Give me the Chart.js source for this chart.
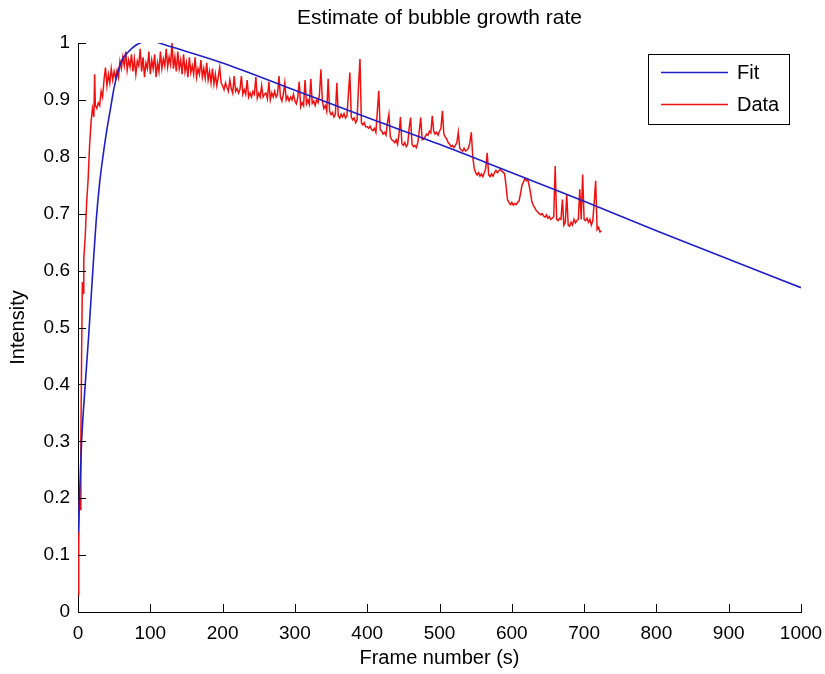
<!DOCTYPE html>
<html>
<head>
<meta charset="utf-8">
<script src="https://cdn.jsdelivr.net/npm/chart.js@4.4.0/dist/chart.umd.min.js"></script>
<style>
  html, body { margin: 0; padding: 0; background: #fff; }
  canvas { display: block; }
</style>
</head>
<body>
<canvas id="chart" width="825" height="674"></canvas>
<script>
// Measured intensity, rising phase (irregular frames)
const riseFrames = [0, 1, 2, 3, 4, 5, 6, 7, 8, 10, 12, 14, 16, 18, 20, 22, 23, 24, 26, 28, 30];
const riseIntensity = [0.03, 0.12, 0.2, 0.18, 0.3, 0.45, 0.58, 0.56, 0.62, 0.66, 0.72, 0.76, 0.82, 0.86, 0.885, 0.87, 0.945, 0.89, 0.885, 0.895, 0.89];

// Measured intensity sampled every 2 frames, by segment start frame
const sampleStep = 2;
const plateauStart = 32;
const plateauIntensity = [
  0.915, 0.905, 0.935, 0.957, 0.925, 0.945, 0.93, 0.955, 0.935, 0.95, 0.938, 0.952, 0.94, 0.968,
  0.955, 0.975, 0.96, 0.985, 0.952, 0.97, 0.958, 0.98, 0.95, 0.972,
  0.945, 0.968, 0.96, 0.99, 0.95, 0.975, 0.94, 0.965, 0.955, 0.985,
  0.945, 0.97, 0.955, 0.98, 0.94, 0.965, 0.95, 0.985, 0.955, 0.972,
  0.96, 0.99, 0.958, 0.975, 0.962, 1.0, 0.955, 0.975, 0.95, 0.985,
  0.955, 0.97, 0.945, 0.98, 0.95, 0.965, 0.94, 0.975, 0.948, 0.96,
  0.945, 0.975, 0.94, 0.955, 0.945, 0.97, 0.94, 0.955, 0.938, 0.965,
  0.935, 0.95, 0.93, 0.955, 0.928, 0.945, 0.925, 0.94, 0.957, 0.93
];
const declineStart = 200;
const declineIntensity = [
  0.925, 0.918, 0.93, 0.922, 0.915, 0.935, 0.92, 0.912, 0.942, 0.915,
  0.92, 0.912, 0.918, 0.942, 0.91, 0.918, 0.91, 0.935, 0.905, 0.912,
  0.905, 0.915, 0.91, 0.94, 0.903, 0.912, 0.905, 0.925, 0.905, 0.91,
  0.912, 0.902, 0.932, 0.9, 0.912, 0.905, 0.915, 0.905, 0.91, 0.942,
  0.905, 0.898, 0.91, 0.93, 0.9, 0.906, 0.898, 0.905, 0.9, 0.91,
  0.898, 0.893, 0.905, 0.932, 0.888, 0.895, 0.89, 0.935, 0.893, 0.9,
  0.892, 0.937, 0.894, 0.898, 0.89, 0.9, 0.895, 0.91, 0.954, 0.898,
  0.885, 0.89, 0.88, 0.937, 0.88, 0.874, 0.878, 0.87, 0.875, 0.93,
  0.872, 0.868, 0.875, 0.87, 0.876, 0.868, 0.872, 0.91, 0.948, 0.87,
  0.865, 0.868, 0.86, 0.865, 0.925, 0.972, 0.86, 0.856, 0.86, 0.853
];
const tailStart = 400;
const tailIntensity = [
  0.853, 0.85, 0.854, 0.848, 0.846, 0.85, 0.843, 0.88, 0.916, 0.848,
  0.845, 0.84, 0.843, 0.838, 0.86, 0.875, 0.835, 0.83, 0.828, 0.825,
  0.83, 0.822, 0.84, 0.87, 0.823, 0.82, 0.825, 0.818, 0.822, 0.85,
  0.869, 0.822, 0.818, 0.82, 0.816, 0.825, 0.845, 0.869, 0.83, 0.831,
  0.835, 0.84, 0.838, 0.845, 0.842, 0.872, 0.845, 0.84, 0.843, 0.838,
  0.845, 0.85, 0.881, 0.84, 0.835, 0.831, 0.825, 0.822, 0.818, 0.82,
  0.816, 0.82, 0.825, 0.843, 0.815, 0.812, 0.81, 0.815, 0.81, 0.812,
  0.815, 0.825, 0.843, 0.8, 0.78, 0.772, 0.768, 0.772, 0.766, 0.77,
  0.765, 0.772, 0.78, 0.807, 0.768, 0.765, 0.77, 0.766, 0.772, 0.776,
  0.772, 0.775, 0.778, 0.775, 0.773, 0.77, 0.75, 0.725, 0.72, 0.716,
  0.72, 0.715, 0.718, 0.716, 0.72, 0.722, 0.735, 0.75, 0.755, 0.762,
  0.758, 0.76, 0.75, 0.735, 0.72, 0.714, 0.71, 0.705, 0.703, 0.7,
  0.698, 0.7, 0.696, 0.694, 0.698, 0.692, 0.695, 0.69, 0.692, 0.695,
  0.784, 0.69, 0.688, 0.692, 0.69, 0.725, 0.68, 0.685, 0.734, 0.68,
  0.678, 0.685, 0.68, 0.69, 0.684, 0.688, 0.69, 0.743, 0.69, 0.769,
  0.69, 0.688, 0.692, 0.685, 0.69, 0.68, 0.688, 0.72, 0.758, 0.672,
  0.676, 0.668, 0.67
];

// Fitted growth/decay curve
const fitFrames = [0, 2, 5, 10, 15, 20, 25, 30, 35, 40, 45, 50, 55, 60, 70, 80, 90, 100, 110, 120, 200, 300, 400, 500, 600, 700, 800, 900, 1000];
const fitIntensity = [0.14, 0.2, 0.3, 0.4, 0.49, 0.59, 0.685, 0.755, 0.805, 0.848, 0.885, 0.922, 0.948, 0.968, 0.985, 0.996, 1.002, 1.004, 1.001, 0.997, 0.965, 0.917, 0.869, 0.822, 0.772, 0.722, 0.67, 0.62, 0.57];

// Axis ticks
const xTicks = [0, 100, 200, 300, 400, 500, 600, 700, 800, 900, 1000];
const yTicks = [0, 0.1, 0.2, 0.3, 0.4, 0.5, 0.6, 0.7, 0.8, 0.9, 1];

const FONT = '"Liberation Sans", Arial, sans-serif';

function sampled(start, values) {
  return values.map((v, i) => ({ x: start + i * sampleStep, y: v }));
}
const dataPoints = riseFrames.map((f, i) => ({ x: f, y: riseIntensity[i] }))
  .concat(sampled(plateauStart, plateauIntensity))
  .concat(sampled(declineStart, declineIntensity))
  .concat(sampled(tailStart, tailIntensity));
const fitPoints = fitFrames.map((f, i) => ({ x: f, y: fitIntensity[i] }));

// Inward tick marks, title and boxed legend
const decorations = {
  id: 'decorations',
  afterDatasetsDraw(chart) {
    const { ctx, chartArea: a, scales } = chart;
    ctx.save();
    ctx.strokeStyle = '#000';
    ctx.lineWidth = 1;
    ctx.beginPath();
    xTicks.forEach(v => {
      const px = Math.round(scales.x.getPixelForValue(v)) + 0.5;
      ctx.moveTo(px, a.bottom);
      ctx.lineTo(px, a.bottom - 8);
    });
    yTicks.forEach(v => {
      const py = Math.round(scales.y.getPixelForValue(v)) + 0.5;
      ctx.moveTo(a.left, py);
      ctx.lineTo(a.left + 8, py);
    });
    ctx.stroke();

    // Title
    ctx.fillStyle = '#000';
    ctx.font = '21px ' + FONT;
    ctx.textAlign = 'center';
    ctx.textBaseline = 'middle';
    ctx.fillText('Estimate of bubble growth rate', (a.left + a.right) / 2, 18);

    // Legend box
    const bx = 648.5, by = 54.5, bw = 141, bh = 70;
    ctx.fillStyle = '#fff';
    ctx.fillRect(bx, by, bw, bh);
    ctx.strokeStyle = '#000';
    ctx.strokeRect(bx, by, bw, bh);
    const rows = [72.5, 104.5];
    chart.data.datasets.forEach((ds, i) => {
      ctx.strokeStyle = ds.borderColor;
      ctx.lineWidth = 1.5;
      ctx.beginPath();
      ctx.moveTo(661, rows[i]);
      ctx.lineTo(728, rows[i]);
      ctx.stroke();
      ctx.fillStyle = '#000';
      ctx.font = '20px ' + FONT;
      ctx.textAlign = 'left';
      ctx.textBaseline = 'middle';
      ctx.fillText(ds.label, 737, rows[i] + 1);
    });
    ctx.restore();
  }
};

new Chart(document.getElementById('chart'), {
  type: 'line',
  data: {
    datasets: [
      { label: 'Fit', data: fitPoints, borderColor: '#1f1fc8', borderWidth: 1.6, pointRadius: 0, tension: 0.3, cubicInterpolationMode: 'monotone' },
      { label: 'Data', data: dataPoints, borderColor: '#f01010', borderWidth: 1.5, pointRadius: 0, tension: 0 }
    ]
  },
  options: {
    responsive: false,
    animation: false,
    devicePixelRatio: 1,
    layout: { padding: { top: 43, right: 24, bottom: 0, left: 0 } },
    plugins: { legend: { display: false }, tooltip: { enabled: false }, title: { display: false } },
    scales: {
      x: {
        type: 'linear', min: 0, max: 1000,
        afterBuildTicks: s => { s.ticks = xTicks.map(v => ({ value: v })); },
        afterFit: s => { s.height = 62; s.paddingLeft = 0; s.paddingRight = 0; },
        ticks: { color: '#000', font: { family: FONT, size: 19 }, padding: 10, maxRotation: 0, autoSkip: false, callback: v => String(v) },
        grid: { drawOnChartArea: false, drawTicks: false },
        border: { display: true, color: '#000', width: 1 },
        title: { display: true, text: 'Frame number (s)', color: '#000', font: { family: FONT, size: 20 }, padding: { top: 0, bottom: 4 } }
      },
      y: {
        type: 'linear', min: 0, max: 1,
        afterBuildTicks: s => { s.ticks = yTicks.map(v => ({ value: v })); },
        afterFit: s => { s.width = 78; s.paddingTop = 0; s.paddingBottom = 0; },
        ticks: { color: '#000', font: { family: FONT, size: 19 }, padding: 8, autoSkip: false, callback: v => String(v) },
        grid: { drawOnChartArea: false, drawTicks: false },
        border: { display: true, color: '#000', width: 1 },
        title: { display: true, text: 'Intensity', color: '#000', font: { family: FONT, size: 20 }, padding: { top: 6, bottom: 0 } }
      }
    }
  },
  plugins: [decorations]
});
</script>
</body>
</html>
